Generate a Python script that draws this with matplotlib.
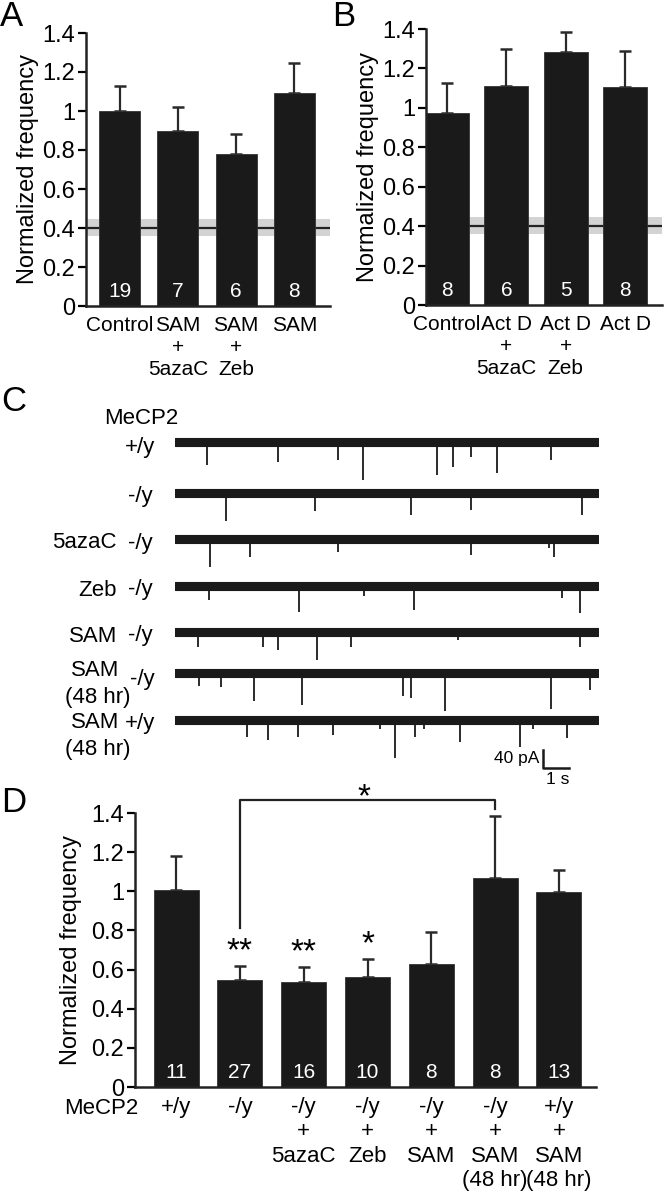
import numpy as np
import matplotlib.pyplot as plt
from matplotlib.ticker import FuncFormatter

plt.rcParams['font.family'] = ['Liberation Sans', 'DejaVu Sans']

W, H = 664, 1199
BAR = '#1a1a1a'

# ---- panel A: SAM with methylation inhibitors (normalized to control)
a_labels = ['Control', 'SAM\n+\n5azaC', 'SAM\n+\nZeb', 'SAM']
a_means = [1.00, 0.90, 0.78, 1.09]
a_sem = [0.13, 0.12, 0.10, 0.155]
a_n = [19, 7, 6, 8]

# ---- panel B: SAM with actinomycin D
b_labels = ['Control', 'Act D\n+\n5azaC', 'Act D\n+\nZeb', 'Act D']
b_means = [0.975, 1.11, 1.285, 1.105]
b_sem = [0.15, 0.19, 0.10, 0.185]
b_n = [8, 6, 5, 8]

# MeCP2 -/y level shown as line + sem band in A and B
ko_level = 0.40
ko_band = [0.36, 0.445]

# ---- panel D
d_labels = ['+/y', '-/y', '-/y\n+\n5azaC', '-/y\n+\nZeb', '-/y\n+\nSAM',
            '-/y\n+\nSAM\n(48 hr)', '+/y\n+\nSAM\n(48 hr)']
d_means = [1.005, 0.547, 0.534, 0.564, 0.629, 1.066, 0.996]
d_sem = [0.173, 0.072, 0.078, 0.089, 0.165, 0.317, 0.114]
d_n = [11, 27, 16, 10, 8, 8, 13]
d_stars = ['', '**', '**', '*', '', '', '']
d_pair = (1, 5)
d_pair_star = '*'

# ---- panel C: example traces, large events (time s, amplitude pA)
trace_dur = 16.3
ev_times = [
  [0.36, 1.27, 4.0, 6.3, 7.25, 10.1, 10.7, 11.4, 12.4, 14.5],
  [2.0, 5.4, 9.1, 11.4, 15.7],
  [1.36, 2.9, 6.3, 11.4, 14.4, 14.6],
  [1.33, 4.8, 7.3, 9.2, 14.9, 15.6],
  [0.9, 3.4, 4.0, 5.5, 6.8, 10.9, 15.6],
  [0.95, 1.8, 3.06, 4.9, 8.8, 9.1, 10.4, 14.5, 16.0],
  [2.8, 3.6, 4.75, 6.1, 7.9, 8.5, 9.25, 9.6, 11.0, 13.3, 13.8, 15.1],
]
ev_amps = [
  [12, 50, 44, 40, 84, 73, 55, 33, 68, 40],
  [62, 40, 48, 37, 48],
  [62, 40, 29, 35, 20, 40],
  [31, 57, 22, 53, 27, 59],
  [33, 33, 40, 62, 33, 18, 33],
  [29, 30, 62, 70, 51, 55, 84, 81, 37],
  [37, 44, 38, 33, 20, 84, 37, 20, 48, 59, 20, 40],
]
noise_pa = 9

FS_TICK = 17
FS_CAT = 15
FS_N = 15


def box(x0, y0, x1, y1):
  return [x0 / W, 1 - y1 / H, (x1 - x0) / W, (y1 - y0) / H]


def ftext(x, y, s, **kw):
  fig.text(x / W, 1 - y / H, s, **kw)


def bar_panel(ax, labels, means, sem, n, width, cat_fs, band=True):
  x = np.arange(len(means))
  if band:
    ax.axhspan(ko_band[0], ko_band[1], color='#d3d3d3', lw=0, zorder=0)
    ax.axhline(ko_level, color='#222222', lw=1.6, zorder=1)
  ax.bar(x, means, width, color=BAR, edgecolor='#333333', lw=0.6, zorder=2)
  ax.errorbar(x, means, yerr=[[0] * len(means), sem], fmt='none',
              ecolor='#2a2a2a', elinewidth=1.6, capsize=4, capthick=1.8, zorder=1.5)
  for xi, ni in zip(x, n):
    ax.text(xi, 0.045, str(ni), color='white', ha='center', va='baseline',
            fontsize=FS_N, zorder=3)
  ax.set_ylim(0, 1.4)
  ax.set_yticks(np.arange(0, 1.41, 0.2))
  ax.yaxis.set_major_formatter(FuncFormatter(lambda v, p: '%g' % round(v, 1)))
  ax.set_xticks(x)
  ax.set_xticklabels(labels, fontsize=cat_fs, linespacing=1.22)
  ax.tick_params(axis='x', length=0, pad=7)
  ax.tick_params(axis='y', direction='out', length=6, width=1.6, labelsize=FS_TICK, pad=2)
  for s in ['top', 'right']:
    ax.spines[s].set_visible(False)
  for s in ['left', 'bottom']:
    ax.spines[s].set_linewidth(1.8)
    ax.spines[s].set_color('#222222')
  ax.set_ylabel('Normalized frequency', fontsize=FS_TICK, labelpad=2)


fig = plt.figure(figsize=(W / 100, H / 100), dpi=100)

# A
axA = fig.add_axes(box(86, 33, 330, 306))
bar_panel(axA, a_labels, a_means, a_sem, a_n, 0.70, FS_CAT)
axA.set_xlim(-0.575, 3.61)

# B
axB = fig.add_axes(box(426, 29, 662, 305))
bar_panel(axB, b_labels, b_means, b_sem, b_n, 0.74, FS_CAT)
axB.set_xlim(-0.354, 3.62)

# D
axD = fig.add_axes(box(135, 813, 596, 1087))
bar_panel(axD, d_labels, d_means, d_sem, d_n, 0.705, 16, band=False)
axD.set_xlim(-0.643, 6.58)
axD.yaxis.set_label_coords(-0.115, 0.5)
for i, s in enumerate(d_stars):
  if s:
    axD.text(i, d_means[i] + d_sem[i] + 0.028, s, ha='center', va='baseline',
             fontsize=24)
# bracket between -/y and -/y + SAM (48 hr)
i0, i1 = d_pair
top = 1.468
axD.plot([i0, i0, i1, i1], [0.813, top, top, d_means[i1] + d_sem[i1] + 0.035],
         color='#222222', lw=1.6, clip_on=False)
axD.text((i0 + i1) / 2 - 0.05, top - 0.036, d_pair_star, ha='center',
         va='baseline', fontsize=24)
ftext(138, 1109, 'MeCP2', ha='right', va='center', fontsize=16)

# C: traces
axC = fig.add_axes(box(174.5, 425, 598, 775))
pa_per_px = 40 / 18.0
base_px = [442, 493, 539, 586, 632, 673, 720]
for k in range(len(ev_times)):
  base = -(base_px[k] - 425) * pa_per_px
  axC.fill_between([0, trace_dur], base - noise_pa, base + noise_pa,
                   color='#1a1a1a', lw=0.8)
  axC.vlines(ev_times[k], base, base - np.array(ev_amps[k]),
             color='#1a1a1a', lw=1.3)
bar_y = -(768 - 425) * pa_per_px
axC.plot([14.2, 14.2, 15.2], [bar_y + 40, bar_y, bar_y], color='#1a1a1a', lw=1.8,
         clip_on=False)
axC.text(14.05, bar_y + 20, '40 pA', ha='right', va='center', fontsize=12.5)
axC.text(14.75, bar_y - 8, '1 s', ha='center', va='top', fontsize=12.5)
axC.set_xlim(0, trace_dur)
axC.set_ylim(-(775 - 425) * pa_per_px, 0)
axC.axis('off')

# trace labels
lab = dict(fontsize=16, va='center')
ftext(104, 418, 'MeCP2', ha='left', **lab)
ftext(155, 447, '+/y', ha='right', **lab)
ftext(153, 497, '-/y', ha='right', **lab)
ftext(117, 543, '5azaC', ha='right', **lab)
ftext(153, 543, '-/y', ha='right', **lab)
ftext(117, 590, 'Zeb', ha='right', **lab)
ftext(153, 590, '-/y', ha='right', **lab)
ftext(117, 636, 'SAM', ha='right', **lab)
ftext(153, 636, '-/y', ha='right', **lab)
ftext(119, 670, 'SAM', ha='right', **lab)
ftext(155, 680, '-/y', ha='right', **lab)
ftext(98, 697, '(48 hr)', ha='center', **lab)
ftext(119, 723, 'SAM', ha='right', **lab)
ftext(155, 723, '+/y', ha='right', **lab)
ftext(98, 750, '(48 hr)', ha='center', **lab)

# panel letters
let = dict(fontsize=25, va='baseline', ha='left')
ftext(0, 26, 'A', **let)
ftext(332, 26, 'B', **let)
ftext(1, 411, 'C', **let)
ftext(1, 812, 'D', **let)

fig.savefig('out.png', dpi=100)
